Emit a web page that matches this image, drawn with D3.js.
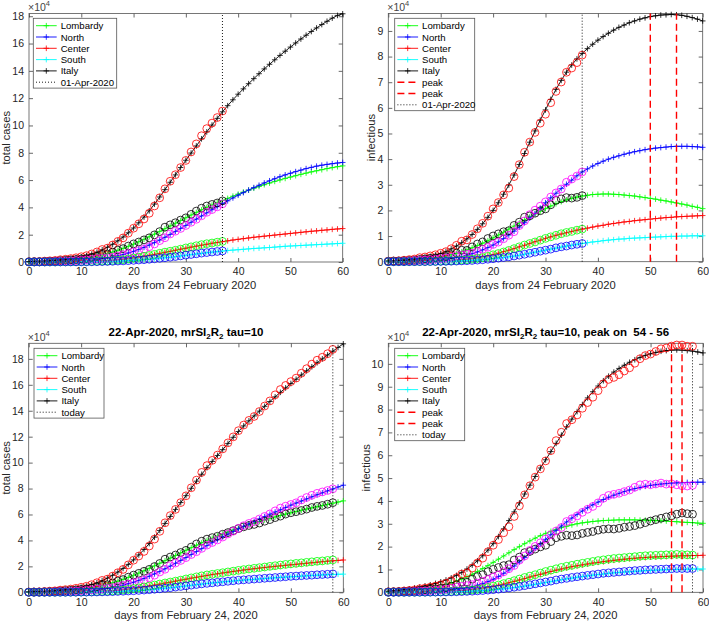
<!DOCTYPE html>
<html><head><meta charset="utf-8">
<script src="https://cdn.jsdelivr.net/npm/d3@7"></script>
<style>body{margin:0;background:#fff}</style>
</head><body>
<script>
// ---------- DATA (values in units of 1e4) ----------
const days = d3.range(0, 61);
const xTicks = [0,10,20,30,40,50,60];
const yTicksTot = [0,2,4,6,8,10,12,14,16,18];
const yTicksInf1 = [0,1,2,3,4,5,6,7,8,9];
const yTicksInf2 = [0,1,2,3,4,5,6,7,8,9,10];
const regionNames = ['Lombardy','North','Center','South','Italy'];

// observed data (days 0..58)
const dItaTot = [0.023,0.032,0.040,0.065,0.089,0.113,0.169,0.204,0.250,0.309,0.386,0.464,0.588,0.738,0.917,1.015,1.246,1.511,1.766,2.116,2.475,2.798,3.151,3.571,4.104,4.702,5.358,5.914,6.393,6.918,7.439,8.059,8.650,9.247,9.769,10.174,10.579,11.057,11.524,11.983,12.463,12.895,13.255,13.559,13.942,14.363,14.758,15.227,15.636,15.952,16.249,16.516,16.894,17.243,17.593,17.897,18.123,18.396,18.733];
const dItaInf = [0.022,0.031,0.039,0.059,0.082,0.105,0.158,0.184,0.226,0.271,0.330,0.392,0.506,0.639,0.799,0.851,1.059,1.284,1.496,1.775,2.060,2.307,2.606,2.871,3.319,3.786,4.268,4.664,5.042,5.403,5.752,6.201,6.641,7.007,7.388,7.553,7.764,8.057,8.305,8.539,8.827,9.125,9.319,9.407,9.526,9.688,9.827,10.027,10.225,10.362,10.429,10.542,10.661,10.696,10.777,10.826,10.824,10.771,10.770];
const dLombTot = [0.017,0.024,0.026,0.040,0.053,0.062,0.098,0.125,0.152,0.182,0.225,0.261,0.342,0.419,0.547,0.579,0.728,0.873,0.982,1.169,1.327,1.465,1.622,1.771,1.988,2.226,2.552,2.721,2.876,3.070,3.235,3.489,3.730,3.942,4.101,4.216,4.321,4.477,4.607,4.752,4.912,5.046,5.153,5.233,5.341,5.480,5.605,5.759,5.873,6.031,6.133,6.215,6.309,6.414,6.538,6.624,6.697,6.793,6.909];
const dLombInf = [0.017,0.023,0.025,0.035,0.047,0.055,0.089,0.108,0.133,0.150,0.178,0.201,0.274,0.337,0.449,0.443,0.576,0.690,0.773,0.906,1.004,1.086,1.169,1.210,1.416,1.542,1.737,1.789,1.891,1.987,2.059,2.219,2.390,2.450,2.500,2.480,2.510,2.577,2.620,2.660,2.720,2.760,2.780,2.770,2.800,2.850,2.880,2.920,2.980,3.050,3.120,3.180,3.240,3.300,3.350,3.420,3.470,3.440,3.420];
const dNorthTot = [0.005,0.007,0.012,0.022,0.031,0.044,0.061,0.065,0.080,0.103,0.129,0.159,0.188,0.244,0.273,0.315,0.363,0.439,0.534,0.622,0.738,0.838,0.939,1.120,1.320,1.566,1.776,2.053,2.257,2.457,2.674,2.910,3.130,3.386,3.638,3.838,4.038,4.260,4.498,4.711,4.931,5.139,5.311,5.456,5.651,5.852,6.043,6.278,6.493,6.640,6.770,6.900,7.120,7.310,7.480,7.630,7.740,7.850,7.980];
const dNorthInf = [0.005,0.007,0.012,0.021,0.030,0.043,0.059,0.063,0.076,0.097,0.120,0.149,0.177,0.231,0.258,0.293,0.335,0.404,0.485,0.563,0.671,0.763,0.896,1.032,1.171,1.409,1.591,1.835,2.011,2.166,2.333,2.522,2.682,2.836,3.099,3.222,3.341,3.501,3.635,3.759,3.917,4.115,4.239,4.287,4.336,4.408,4.477,4.597,4.705,4.732,4.709,4.742,4.781,4.736,4.747,4.706,4.664,4.651,4.680];
const dCenterTot = [0.001,0.001,0.002,0.002,0.003,0.004,0.006,0.008,0.011,0.015,0.020,0.028,0.038,0.050,0.065,0.081,0.105,0.135,0.170,0.225,0.290,0.350,0.420,0.480,0.560,0.640,0.720,0.790,0.860,0.940,1.030,1.110,1.190,1.270,1.340,1.390,1.450,1.510,1.570,1.630,1.690,1.750,1.800,1.850,1.900,1.950,2.000,2.050,2.100,2.150,2.190,2.230,2.270,2.310,2.350,2.390,2.420,2.460,2.500];
const dCenterInf = [0.001,0.001,0.002,0.002,0.003,0.004,0.006,0.008,0.011,0.015,0.020,0.027,0.036,0.047,0.061,0.077,0.100,0.128,0.160,0.210,0.270,0.320,0.380,0.440,0.510,0.580,0.650,0.710,0.770,0.840,0.910,0.970,1.030,1.090,1.140,1.180,1.230,1.270,1.310,1.350,1.390,1.420,1.450,1.480,1.500,1.520,1.540,1.560,1.580,1.600,1.610,1.620,1.630,1.640,1.650,1.660,1.650,1.640,1.630];
const dSouthTot = [0.000,0.000,0.001,0.001,0.002,0.003,0.004,0.005,0.007,0.009,0.012,0.015,0.020,0.025,0.032,0.040,0.050,0.065,0.080,0.100,0.120,0.145,0.170,0.200,0.235,0.270,0.310,0.350,0.400,0.450,0.500,0.550,0.600,0.650,0.690,0.730,0.770,0.810,0.850,0.890,0.930,0.960,0.990,1.020,1.050,1.080,1.110,1.140,1.170,1.200,1.230,1.250,1.280,1.300,1.320,1.350,1.370,1.390,1.420];
const dSouthInf = [0.000,0.000,0.001,0.001,0.002,0.003,0.004,0.005,0.007,0.009,0.012,0.015,0.019,0.024,0.031,0.039,0.048,0.062,0.077,0.096,0.115,0.138,0.162,0.190,0.222,0.255,0.290,0.330,0.370,0.410,0.450,0.490,0.540,0.580,0.610,0.650,0.680,0.710,0.740,0.770,0.800,0.830,0.850,0.870,0.890,0.910,0.930,0.950,0.960,0.980,0.990,1.000,1.010,1.020,1.030,1.040,1.040,1.040,1.040];

// model curves (days 0..60)
const mItaTot1 = [0.03,0.04,0.05,0.07,0.09,0.12,0.15,0.19,0.24,0.30,0.38,0.47,0.58,0.72,0.89,1.08,1.30,1.55,1.83,2.14,2.49,2.87,3.29,3.75,4.24,4.76,5.30,5.84,6.38,6.92,7.45,7.98,8.50,9.02,9.53,10.03,10.52,11.00,11.45,11.88,12.29,12.68,13.06,13.43,13.79,14.14,14.48,14.81,15.13,15.44,15.74,16.04,16.33,16.61,16.88,17.14,17.39,17.63,17.86,18.06,18.18];
const mLombTot1 = [0.02,0.03,0.04,0.05,0.07,0.09,0.11,0.14,0.17,0.21,0.25,0.30,0.36,0.44,0.52,0.62,0.73,0.86,1.00,1.15,1.31,1.48,1.66,1.85,2.04,2.24,2.44,2.64,2.84,3.04,3.24,3.44,3.63,3.82,4.00,4.17,4.34,4.50,4.66,4.82,4.97,5.12,5.26,5.40,5.53,5.66,5.78,5.90,6.01,6.12,6.22,6.32,6.42,6.51,6.60,6.68,6.76,6.84,6.91,6.98,7.04];
const mNorthTot1 = [0.01,0.01,0.01,0.02,0.02,0.03,0.04,0.05,0.06,0.08,0.10,0.12,0.15,0.19,0.24,0.30,0.37,0.45,0.55,0.66,0.78,0.92,1.07,1.24,1.42,1.61,1.81,2.02,2.24,2.46,2.68,2.91,3.14,3.37,3.60,3.83,4.05,4.27,4.48,4.69,4.89,5.08,5.27,5.45,5.62,5.79,5.95,6.10,6.25,6.38,6.50,6.62,6.73,6.84,6.93,7.02,7.09,7.15,7.20,7.25,7.29];
const mCenterTot1 = [0.00,0.00,0.00,0.01,0.01,0.01,0.01,0.01,0.02,0.02,0.03,0.04,0.05,0.06,0.08,0.10,0.13,0.16,0.20,0.25,0.30,0.36,0.42,0.49,0.56,0.63,0.71,0.78,0.86,0.94,1.01,1.09,1.16,1.23,1.30,1.37,1.43,1.49,1.55,1.61,1.66,1.71,1.76,1.81,1.85,1.89,1.93,1.97,2.01,2.05,2.09,2.13,2.17,2.21,2.25,2.28,2.32,2.35,2.39,2.42,2.45];
const mSouthTot1 = [0.00,0.00,0.00,0.00,0.00,0.01,0.01,0.01,0.01,0.01,0.01,0.02,0.02,0.03,0.03,0.04,0.05,0.06,0.08,0.10,0.12,0.14,0.17,0.20,0.23,0.27,0.31,0.35,0.39,0.44,0.49,0.54,0.59,0.63,0.68,0.72,0.76,0.80,0.84,0.87,0.90,0.93,0.96,0.99,1.01,1.04,1.06,1.09,1.12,1.15,1.17,1.19,1.21,1.23,1.25,1.27,1.29,1.31,1.33,1.35,1.37];

const mItaInf2 = [0.03,0.04,0.05,0.06,0.08,0.10,0.13,0.17,0.21,0.26,0.32,0.40,0.50,0.61,0.74,0.89,1.06,1.26,1.48,1.73,2.00,2.30,2.63,2.99,3.38,3.79,4.22,4.66,5.10,5.52,5.92,6.33,6.72,7.07,7.39,7.67,7.91,8.12,8.31,8.48,8.64,8.78,8.91,9.03,9.14,9.23,9.32,9.39,9.46,9.51,9.56,9.59,9.62,9.63,9.64,9.63,9.61,9.57,9.52,9.46,9.39];
const mLombInf2 = [0.02,0.02,0.03,0.04,0.05,0.06,0.08,0.10,0.12,0.15,0.18,0.22,0.27,0.33,0.39,0.46,0.54,0.63,0.72,0.82,0.93,1.04,1.15,1.27,1.39,1.51,1.63,1.75,1.86,1.97,2.07,2.17,2.26,2.34,2.41,2.47,2.52,2.56,2.59,2.62,2.63,2.64,2.64,2.63,2.62,2.60,2.58,2.56,2.53,2.50,2.47,2.44,2.40,2.37,2.33,2.29,2.25,2.21,2.16,2.12,2.07];
const mNorthInf2 = [0.00,0.01,0.01,0.01,0.02,0.02,0.03,0.04,0.05,0.06,0.08,0.10,0.13,0.16,0.20,0.25,0.31,0.38,0.46,0.55,0.65,0.77,0.90,1.04,1.19,1.35,1.52,1.70,1.88,2.09,2.30,2.49,2.67,2.85,3.02,3.18,3.35,3.50,3.62,3.73,3.83,3.92,4.00,4.07,4.13,4.19,4.24,4.29,4.33,4.37,4.40,4.43,4.45,4.47,4.49,4.50,4.50,4.50,4.49,4.48,4.46];
const mCenterInf2 = [0.00,0.00,0.00,0.00,0.01,0.01,0.01,0.01,0.02,0.02,0.03,0.04,0.05,0.06,0.08,0.10,0.12,0.15,0.19,0.23,0.28,0.33,0.39,0.45,0.51,0.58,0.64,0.71,0.78,0.84,0.91,0.97,1.03,1.08,1.13,1.18,1.23,1.27,1.31,1.35,1.39,1.42,1.46,1.49,1.52,1.55,1.57,1.60,1.62,1.64,1.66,1.68,1.70,1.72,1.73,1.75,1.76,1.77,1.78,1.79,1.80];
const mSouthInf2 = [0.00,0.00,0.00,0.00,0.00,0.00,0.01,0.01,0.01,0.01,0.01,0.02,0.02,0.03,0.03,0.04,0.05,0.06,0.08,0.10,0.12,0.14,0.16,0.19,0.22,0.25,0.29,0.33,0.37,0.41,0.45,0.49,0.53,0.57,0.61,0.64,0.68,0.71,0.74,0.77,0.79,0.82,0.84,0.86,0.88,0.89,0.91,0.92,0.93,0.94,0.95,0.96,0.97,0.98,0.99,0.99,1.00,1.00,1.01,1.01,1.01];

const mItaTot3 = [0.03,0.04,0.05,0.07,0.09,0.12,0.16,0.20,0.25,0.31,0.39,0.48,0.59,0.73,0.90,1.09,1.31,1.56,1.84,2.15,2.50,2.88,3.30,3.76,4.25,4.77,5.31,5.85,6.39,6.92,7.45,8.02,8.57,9.10,9.61,10.09,10.55,11.00,11.48,11.95,12.40,12.83,13.22,13.60,13.97,14.34,14.71,15.07,15.42,15.76,16.10,16.43,16.76,17.08,17.39,17.70,18.00,18.30,18.59,18.88,19.16];
const mLombTot3 = [0.02,0.03,0.04,0.05,0.07,0.09,0.11,0.14,0.17,0.21,0.25,0.30,0.36,0.44,0.52,0.62,0.73,0.86,1.00,1.15,1.31,1.48,1.66,1.85,2.04,2.24,2.44,2.64,2.84,3.04,3.24,3.44,3.63,3.82,4.00,4.17,4.34,4.50,4.65,4.80,4.94,5.08,5.21,5.34,5.46,5.58,5.70,5.81,5.92,6.03,6.13,6.23,6.33,6.42,6.51,6.60,6.69,6.78,6.87,6.96,7.05];
const mNorthTot3 = [0.01,0.01,0.01,0.02,0.02,0.03,0.04,0.05,0.06,0.08,0.10,0.12,0.15,0.19,0.24,0.30,0.37,0.45,0.55,0.66,0.78,0.92,1.07,1.24,1.42,1.61,1.81,2.02,2.24,2.46,2.68,2.91,3.14,3.37,3.60,3.83,4.05,4.27,4.48,4.69,4.89,5.09,5.28,5.47,5.66,5.84,6.02,6.19,6.36,6.54,6.72,6.88,7.04,7.20,7.36,7.52,7.67,7.82,7.97,8.12,8.26];
const mCenterTot3 = [0.00,0.00,0.00,0.01,0.01,0.01,0.01,0.01,0.02,0.02,0.03,0.04,0.05,0.06,0.08,0.10,0.13,0.16,0.20,0.25,0.30,0.36,0.42,0.49,0.56,0.63,0.71,0.78,0.86,0.94,1.01,1.09,1.16,1.23,1.30,1.37,1.43,1.49,1.55,1.61,1.66,1.72,1.77,1.82,1.87,1.91,1.96,2.00,2.04,2.08,2.12,2.16,2.20,2.24,2.28,2.32,2.36,2.40,2.43,2.46,2.49];
const mSouthTot3 = [0.00,0.00,0.00,0.00,0.00,0.01,0.01,0.01,0.01,0.01,0.01,0.02,0.02,0.03,0.03,0.04,0.05,0.06,0.08,0.10,0.12,0.14,0.17,0.20,0.23,0.27,0.31,0.35,0.39,0.44,0.49,0.54,0.59,0.63,0.68,0.72,0.76,0.80,0.84,0.87,0.91,0.94,0.97,1.00,1.03,1.06,1.09,1.12,1.15,1.17,1.20,1.22,1.25,1.27,1.30,1.32,1.34,1.36,1.38,1.39,1.40];

const mItaInf4 = [0.05,0.07,0.09,0.12,0.15,0.19,0.23,0.28,0.33,0.39,0.46,0.54,0.63,0.74,0.87,1.02,1.19,1.38,1.60,1.85,2.13,2.44,2.78,3.14,3.52,3.91,4.30,4.69,5.07,5.44,5.80,6.16,6.52,6.88,7.24,7.58,7.91,8.22,8.51,8.78,9.03,9.26,9.46,9.64,9.80,9.94,10.07,10.18,10.28,10.37,10.44,10.50,10.55,10.58,10.60,10.61,10.60,10.58,10.56,10.52,10.48];
const mLombInf4 = [0.03,0.04,0.05,0.06,0.08,0.10,0.12,0.15,0.19,0.23,0.28,0.34,0.41,0.49,0.58,0.68,0.79,0.91,1.04,1.17,1.31,1.45,1.59,1.73,1.87,2.00,2.13,2.25,2.37,2.48,2.58,2.67,2.75,2.83,2.89,2.95,3.00,3.04,3.07,3.10,3.12,3.14,3.15,3.16,3.17,3.17,3.17,3.17,3.16,3.16,3.15,3.14,3.13,3.12,3.10,3.09,3.07,3.06,3.05,3.03,3.02];
const mNorthInf4 = [0.00,0.00,0.01,0.01,0.01,0.02,0.02,0.03,0.04,0.05,0.06,0.08,0.10,0.13,0.16,0.20,0.25,0.31,0.38,0.47,0.57,0.69,0.83,0.98,1.15,1.33,1.52,1.72,1.92,2.12,2.32,2.52,2.71,2.90,3.08,3.25,3.41,3.56,3.70,3.83,3.95,4.06,4.16,4.25,4.33,4.41,4.48,4.54,4.59,4.64,4.68,4.71,4.74,4.76,4.78,4.79,4.80,4.81,4.81,4.82,4.82];
const mCenterInf4 = [0.00,0.00,0.00,0.00,0.01,0.01,0.01,0.01,0.02,0.02,0.03,0.04,0.05,0.06,0.08,0.10,0.12,0.15,0.18,0.22,0.26,0.31,0.36,0.42,0.48,0.54,0.60,0.67,0.73,0.79,0.85,0.91,0.97,1.02,1.07,1.12,1.16,1.20,1.24,1.28,1.31,1.34,1.37,1.40,1.42,1.45,1.47,1.49,1.51,1.52,1.54,1.55,1.56,1.57,1.58,1.59,1.60,1.60,1.61,1.61,1.62];
const mSouthInf4 = [0.00,0.00,0.00,0.00,0.00,0.00,0.01,0.01,0.01,0.01,0.01,0.02,0.02,0.03,0.03,0.04,0.05,0.06,0.07,0.09,0.11,0.13,0.15,0.18,0.21,0.24,0.27,0.31,0.35,0.39,0.43,0.47,0.51,0.55,0.59,0.62,0.66,0.69,0.72,0.75,0.78,0.80,0.83,0.85,0.87,0.89,0.90,0.92,0.93,0.95,0.96,0.97,0.98,0.99,1.00,1.00,1.01,1.01,1.02,1.02,1.02];

const peaksTop = [50, 55];
const peaksBottom = [54, 56];

// ---------- STYLE ----------
const FONT = '"Liberation Sans", Arial, Helvetica, sans-serif';
const modelColors = ['#00ff00','#0000ff','#ff0000','#00ffff','#000000'];
const obsColors = ['#ff0000','#000000','#ff00ff','#00ff00','#0000ff']; // Italy, Lombardy, North, Center, South
const axisColor = '#262626';

const svg = d3.select('body').append('svg').attr('width',709).attr('height',622)
  .style('font-family', FONT);

const panels = [
  {left:29, right:342.7, top:13.5, bottom:262, ymax:18.2, yTicks:yTicksTot, ylab:'total cases', ylabX:6.5,
   xlab:'days from 24 February 2020', xlabY:289, models:[mLombTot1,mNorthTot1,mCenterTot1,mSouthTot1,mItaTot1],
   obs:[dItaTot,dLombTot,dNorthTot,dCenterTot,dSouthTot], today:37, todayName:'01-Apr-2020', peaks:[],
   leg:{x:33.3,y:18.3,w:83.4}},
  {left:388.3, right:702.7, top:13.5, bottom:261.7, ymax:9.68, yTicks:yTicksInf1, ylab:'infectious', ylabX:371.5,
   xlab:'days from 24 February 2020', xlabY:289, models:[mLombInf2,mNorthInf2,mCenterInf2,mSouthInf2,mItaInf2],
   obs:[dItaInf,dLombInf,dNorthInf,dCenterInf,dSouthInf], today:37, todayName:'01-Apr-2020', peaks:peaksTop,
   leg:{x:394.7,y:18.3,w:80}},
  {left:28.7, right:343.3, top:343.3, bottom:592.3, ymax:19.2, yTicks:yTicksTot, ylab:'total cases', ylabX:6.5,
   xlab:'days from February 24, 2020', xlabY:619, models:[mLombTot3,mNorthTot3,mCenterTot3,mSouthTot3,mItaTot3],
   obs:[dItaTot,dLombTot,dNorthTot,dCenterTot,dSouthTot], today:58, todayName:'today', peaks:[],
   leg:{x:34,y:348.3,w:70}, title:' tau=10'},
  {left:388.3, right:703, top:343.3, bottom:592.3, ymax:10.9, yTicks:yTicksInf2, ylab:'infectious', ylabX:366.5,
   xlab:'days from February 24, 2020', xlabY:619, models:[mLombInf4,mNorthInf4,mCenterInf4,mSouthInf4,mItaInf4],
   obs:[dItaInf,dLombInf,dNorthInf,dCenterInf,dSouthInf], today:58, todayName:'today', peaks:peaksBottom,
   leg:{x:394.7,y:348.3,w:70}, title:' tau=10, peak on  54 - 56'}
];

const plus = 'M-2.8,0H2.8M0,-2.8V2.8';

function drawPanel(p){
  const x = d3.scaleLinear().domain([0,60]).range([p.left,p.right]);
  const y = d3.scaleLinear().domain([0,p.ymax]).range([p.bottom,p.top]);
  const g = svg.append('g');

  const gb = g.append('g').attr('transform',`translate(0,${p.bottom})`)
    .call(d3.axisBottom(x).tickValues(xTicks).tickSize(-4).tickPadding(6));
  const gl = g.append('g').attr('transform',`translate(${p.left},0)`)
    .call(d3.axisLeft(y).tickValues(p.yTicks).tickSize(-4).tickPadding(5));
  const gt = g.append('g').attr('transform',`translate(0,${p.top})`)
    .call(d3.axisTop(x).tickValues(xTicks).tickSize(-4).tickFormat(''));
  const gr = g.append('g').attr('transform',`translate(${p.right},0)`)
    .call(d3.axisRight(y).tickValues(p.yTicks).tickSize(-4).tickFormat(''));
  [gb,gl,gt,gr].forEach(a=>{
    a.select('.domain').remove();
    a.selectAll('line').attr('stroke',axisColor).attr('stroke-width',0.7);
    a.selectAll('text').attr('fill',axisColor).style('font-size','10.5px').style('font-family',FONT);
  });
  g.append('rect').attr('x',p.left).attr('y',p.top).attr('width',p.right-p.left).attr('height',p.bottom-p.top)
    .attr('fill','none').attr('stroke','#555').attr('stroke-width',0.8);

  // exponent label
  const ex = g.append('text').attr('x',p.left-1).attr('y',p.top-2.8).attr('fill','#444').style('font-size','10.5px');
  ex.append('tspan').text('\u00d710');
  ex.append('tspan').attr('dy',-4.5).style('font-size','7.5px').text('4');

  // model curves
  const line = d3.line().x((d,i)=>x(days[i])).y(d=>y(d));
  p.models.forEach((arr,k)=>{
    g.append('path').datum(arr).attr('d',line).attr('fill','none').attr('stroke',modelColors[k]).attr('stroke-width',0.9);
    g.append('g').selectAll('path').data(arr).enter().append('path').attr('d',plus)
      .attr('transform',(d,i)=>`translate(${x(days[i])},${y(d)})`)
      .attr('stroke',modelColors[k]).attr('stroke-width',0.8).attr('fill','none');
  });
  // observed data circles
  p.obs.forEach((arr,k)=>{
    const a = arr.slice(0,p.today+1);
    g.append('g').selectAll('circle').data(a).enter().append('circle')
      .attr('cx',(d,i)=>x(days[i])).attr('cy',d=>y(d)).attr('r',3.9)
      .attr('fill','none').attr('stroke',obsColors[k]).attr('stroke-width',0.8);
  });
  // peak lines
  p.peaks.forEach(pk=>{
    g.append('line').attr('x1',x(pk)).attr('x2',x(pk)).attr('y1',p.bottom).attr('y2',p.top)
      .attr('stroke','#ff0000').attr('stroke-width',1.4).attr('stroke-dasharray','7,4');
  });
  // today line
  g.append('line').attr('x1',x(p.today)).attr('x2',x(p.today)).attr('y1',p.bottom).attr('y2',p.top)
    .attr('stroke','#000').attr('stroke-width',0.9).attr('stroke-dasharray','1,2');

  // axis labels
  g.append('text').attr('x',(p.left+p.right)/2).attr('y',p.xlabY).attr('text-anchor','middle')
    .attr('fill',axisColor).style('font-size','11.2px').text(p.xlab);
  g.append('text').attr('transform',`translate(${p.ylabX},${(p.top+p.bottom)/2}) rotate(-90)`)
    .attr('text-anchor','middle').attr('dy','0.35em').attr('fill',axisColor).style('font-size','11.2px').text(p.ylab);

  // title
  if (p.title){
    const t = g.append('text').attr('x',(p.left+p.right)/2).attr('y',335.5).attr('text-anchor','middle')
      .attr('fill','#000').style('font-size','11.5px').style('font-weight','bold').style('white-space','pre');
    t.append('tspan').text('22-Apr-2020, mrSI');
    t.append('tspan').attr('dy',3).style('font-size','8px').text('2');
    t.append('tspan').attr('dy',-3).text('R');
    t.append('tspan').attr('dy',3).style('font-size','8px').text('2');
    t.append('tspan').attr('dy',-3).text(p.title);
  }

  // legend
  const entries = regionNames.map((n,k)=>({name:n,color:modelColors[k],type:'plus'}));
  p.peaks.forEach(()=>entries.push({name:'peak',color:'#ff0000',type:'dash'}));
  entries.push({name:p.todayName,color:'#000',type:'dot'});
  const L = p.leg, step = 11.3;
  const lg = g.append('g');
  lg.append('rect').attr('x',L.x).attr('y',L.y).attr('width',L.w).attr('height',entries.length*step+2)
    .attr('fill','#fff').attr('stroke','#555').attr('stroke-width',0.8);
  entries.forEach((e,i)=>{
    const yy = L.y + 7.4 + i*step;
    const ln = lg.append('line').attr('x1',L.x+2.7).attr('x2',L.x+23.4).attr('y1',yy).attr('y2',yy)
      .attr('stroke',e.color).attr('stroke-width', e.type==='dash'?1.4:0.9);
    if (e.type==='dash') ln.attr('stroke-dasharray','7,4');
    if (e.type==='dot') ln.attr('stroke-dasharray','1,2');
    if (e.type==='plus') lg.append('path').attr('d',plus).attr('transform',`translate(${L.x+13},${yy})`)
      .attr('stroke',e.color).attr('stroke-width',0.8);
    lg.append('text').attr('x',L.x+27.4).attr('y',yy+3.5).attr('fill','#000').style('font-size','9.6px').text(e.name);
  });
}
panels.forEach(drawPanel);
</script>
</body></html>
